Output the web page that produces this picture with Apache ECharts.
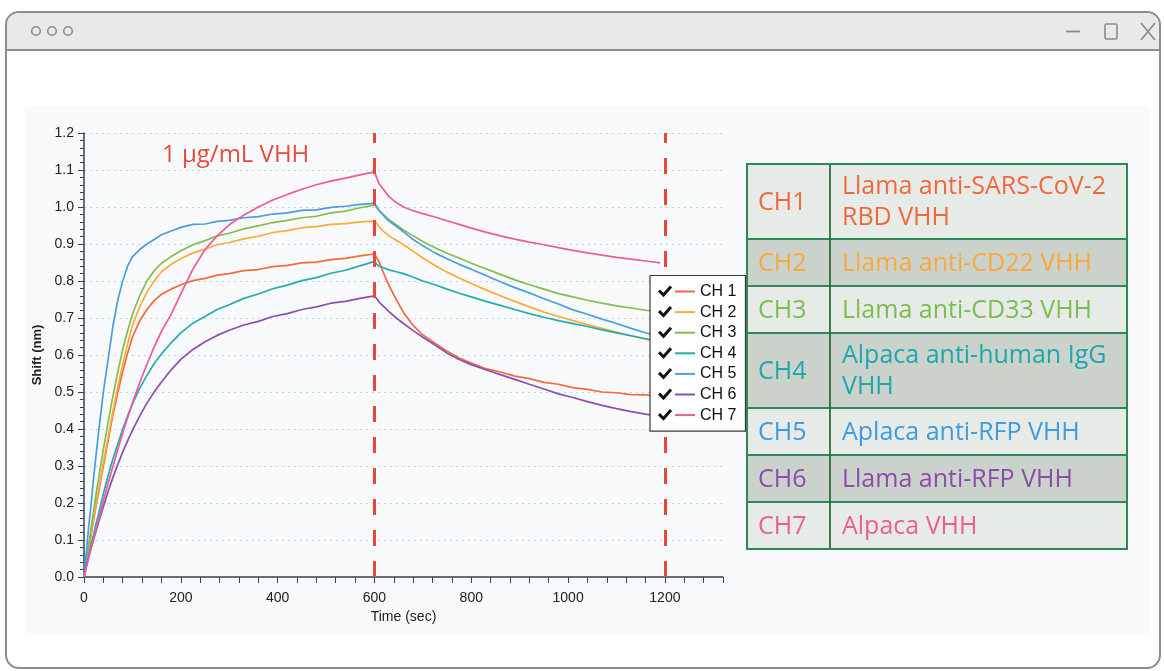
<!DOCTYPE html>
<html>
<head>
<meta charset="utf-8">
<title>BLI binding kinetics – 1 µg/mL VHH</title>
<script src="https://cdn.jsdelivr.net/npm/echarts@6/dist/echarts.min.js"></script>
<style>
  html, body { margin: 0; padding: 0; background: #ffffff; }
  #chart { width: 1164px; height: 671px; }
</style>
</head>
<body>
<div id="chart"></div>
<script>
// Sampling times (s): association 0–600, dissociation 600–1190
const times = [0, 5, 10, 15, 20, 25, 30, 40, 50, 60, 70, 80, 90, 100, 115, 130, 145, 160, 180, 200,
  225, 250, 275, 300, 330, 360, 390, 420, 450, 480, 510, 540, 570, 600,
  605, 610, 620, 630, 645, 660, 680, 700, 725, 750, 775, 800, 830, 860, 890, 920, 950, 980,
  1010, 1040, 1070, 1100, 1130, 1160, 1190];

// Wavelength shift (nm) per channel
const ch1 = [0, 0.038, 0.077, 0.116, 0.155, 0.193, 0.228, 0.3, 0.37, 0.44, 0.5, 0.555, 0.605, 0.648, 0.692, 0.723, 0.747, 0.764, 0.778, 0.79,
  0.801, 0.807, 0.816, 0.82, 0.828, 0.831, 0.839, 0.842, 0.849, 0.851, 0.858, 0.861, 0.868, 0.873,
  0.862, 0.85, 0.818, 0.788, 0.75, 0.715, 0.68, 0.654, 0.632, 0.61, 0.592, 0.578, 0.563, 0.554, 0.543, 0.536, 0.526, 0.521,
  0.512, 0.507, 0.5, 0.498, 0.493, 0.492, 0.488];
const ch2 = [0, 0.04, 0.08, 0.12, 0.16, 0.2, 0.235, 0.31, 0.38, 0.45, 0.515, 0.575, 0.63, 0.68, 0.73, 0.77, 0.8, 0.825, 0.845, 0.86,
  0.876, 0.886, 0.898, 0.904, 0.914, 0.921, 0.931, 0.936, 0.944, 0.947, 0.953, 0.955, 0.96, 0.962,
  0.955, 0.946, 0.933, 0.922, 0.91, 0.898, 0.88, 0.862, 0.842, 0.824, 0.808, 0.793, 0.776, 0.76, 0.745, 0.73, 0.716, 0.704,
  0.693, 0.682, 0.672, 0.662, 0.652, 0.643, 0.635];
const ch3 = [0, 0.045, 0.09, 0.135, 0.18, 0.225, 0.265, 0.345, 0.42, 0.49, 0.555, 0.615, 0.665, 0.71, 0.76, 0.8, 0.828, 0.848, 0.866, 0.882,
  0.898, 0.909, 0.922, 0.929, 0.941, 0.949, 0.958, 0.964, 0.971, 0.975, 0.984, 0.989, 0.998, 1.005,
  0.998, 0.99, 0.978, 0.966, 0.952, 0.938, 0.922, 0.907, 0.89, 0.875, 0.862, 0.848, 0.833, 0.818, 0.803, 0.79, 0.778, 0.766,
  0.757, 0.748, 0.74, 0.733, 0.727, 0.721, 0.715];
const ch4 = [0, 0.03, 0.06, 0.09, 0.115, 0.145, 0.17, 0.225, 0.275, 0.32, 0.36, 0.4, 0.435, 0.468, 0.51, 0.545, 0.577, 0.603, 0.633, 0.66,
  0.686, 0.704, 0.723, 0.736, 0.753, 0.765, 0.779, 0.789, 0.801, 0.809, 0.821, 0.829, 0.841, 0.853,
  0.845, 0.84, 0.835, 0.83, 0.825, 0.82, 0.81, 0.8, 0.79, 0.778, 0.767, 0.757, 0.745, 0.734, 0.723, 0.712, 0.702, 0.693,
  0.685, 0.677, 0.668, 0.66, 0.652, 0.644, 0.636];
const ch5 = [0, 0.07, 0.14, 0.2, 0.27, 0.33, 0.39, 0.5, 0.59, 0.68, 0.75, 0.8, 0.84, 0.865, 0.885, 0.9, 0.912, 0.925, 0.935, 0.945,
  0.953, 0.954, 0.961, 0.964, 0.971, 0.974, 0.981, 0.984, 0.991, 0.992, 0.999, 1.002, 1.007, 1.01,
  1.0, 0.99, 0.975, 0.962, 0.948, 0.933, 0.912, 0.895, 0.876, 0.86, 0.845, 0.832, 0.815, 0.798, 0.782, 0.768, 0.752, 0.738,
  0.722, 0.71, 0.697, 0.685, 0.672, 0.66, 0.648];
const ch6 = [0, 0.03, 0.055, 0.08, 0.102, 0.125, 0.147, 0.19, 0.232, 0.27, 0.305, 0.338, 0.368, 0.396, 0.435, 0.47, 0.5, 0.527, 0.56, 0.588,
  0.615, 0.636, 0.653, 0.667, 0.681, 0.691, 0.704, 0.712, 0.723, 0.73, 0.74, 0.745, 0.753, 0.76,
  0.752, 0.742, 0.73, 0.717, 0.7, 0.685, 0.666, 0.648, 0.627, 0.605, 0.588, 0.574, 0.56, 0.547, 0.534, 0.521, 0.508, 0.495,
  0.485, 0.474, 0.464, 0.455, 0.447, 0.44, 0.434];
const ch7 = [0, 0.027, 0.054, 0.08, 0.105, 0.13, 0.155, 0.205, 0.255, 0.3, 0.345, 0.39, 0.43, 0.47, 0.525, 0.575, 0.622, 0.664, 0.71, 0.765,
  0.832, 0.885, 0.922, 0.952, 0.978, 1.0, 1.019, 1.034, 1.048, 1.06, 1.07, 1.078, 1.087, 1.095,
  1.078, 1.062, 1.045, 1.028, 1.012, 1.0, 0.99, 0.982, 0.973, 0.963, 0.953, 0.943, 0.932, 0.922, 0.913, 0.905, 0.898, 0.89,
  0.883, 0.876, 0.87, 0.864, 0.859, 0.854, 0.849];

const seriesNames = ['CH 1', 'CH 2', 'CH 3', 'CH 4', 'CH 5', 'CH 6', 'CH 7'];
const seriesValues = [ch1, ch2, ch3, ch4, ch5, ch6, ch7];
const seriesColors = ['#f36a3c', '#fbab3a', '#80bf4c', '#22adb0', '#4a9de0', '#8a4fb3', '#ee5a9a'];

// Step boundaries (association end, dissociation end)
const phaseMarks = [600, 1200];
const annotation = '1 μg/mL VHH';

// Channel key table
const tableChannels = ['CH1', 'CH2', 'CH3', 'CH4', 'CH5', 'CH6', 'CH7'];
const tableLabels = ['Llama anti-SARS-CoV-2\nRBD VHH', 'Llama anti-CD22 VHH', 'Llama anti-CD33 VHH',
  'Alpaca anti-human IgG\nVHH', 'Aplaca anti-RFP VHH', 'Llama anti-RFP VHH', 'Alpaca VHH'];
const tableColors = ['#f0693d', '#f9aa3c', '#7cbd50', '#1ea8aa', '#3f9ade', '#8a4ea6', '#ee5b97'];

const AXIS_FONT = "'Liberation Sans', Arial, sans-serif";
const TABLE_FONT = "'Open Sans', sans-serif";
const AXIS_COLOR = '#34444f';

const chart = echarts.init(document.getElementById('chart'), null, { renderer: 'canvas' });

// ---- window chrome + panel background ----
const chrome = [
  { type: 'rect', z: -20, shape: { x: 6, y: 12, width: 1154, height: 656, r: 13 },
    style: { fill: '#ffffff', stroke: '#8c8c8c', lineWidth: 2 } },
  { type: 'rect', z: -19, shape: { x: 7, y: 13, width: 1152, height: 37, r: [12, 12, 0, 0] },
    style: { fill: '#e9e9eb' } },
  { type: 'line', z: -18, shape: { x1: 6, y1: 50, x2: 1160, y2: 50 }, style: { stroke: '#8c8c8c', lineWidth: 2 } },
  { type: 'circle', z: -18, shape: { cx: 36, cy: 31, r: 4.3 }, style: { fill: 'none', stroke: '#8a8a8a', lineWidth: 1.5 } },
  { type: 'circle', z: -18, shape: { cx: 52, cy: 31, r: 4.3 }, style: { fill: 'none', stroke: '#8a8a8a', lineWidth: 1.5 } },
  { type: 'circle', z: -18, shape: { cx: 68, cy: 31, r: 4.3 }, style: { fill: 'none', stroke: '#8a8a8a', lineWidth: 1.5 } },
  { type: 'line', z: -18, shape: { x1: 1066, y1: 31.5, x2: 1080, y2: 31.5 }, style: { stroke: '#8a8a8a', lineWidth: 1.8 } },
  { type: 'rect', z: -18, shape: { x: 1105, y: 24, width: 12, height: 15, r: 1.5 }, style: { fill: 'none', stroke: '#8a8a8a', lineWidth: 1.6 } },
  { type: 'line', z: -18, shape: { x1: 1141, y1: 23, x2: 1155, y2: 40 }, style: { stroke: '#8a8a8a', lineWidth: 1.6 } },
  { type: 'line', z: -18, shape: { x1: 1155, y1: 23, x2: 1141, y2: 40 }, style: { stroke: '#8a8a8a', lineWidth: 1.6 } },
  { type: 'rect', z: -17, shape: { x: 25, y: 107, width: 1125, height: 527 }, style: { fill: '#f8f9fb' } },
  { type: 'text', z: 5, x: 162, y: 155,
    style: { text: annotation, fill: '#e8493c', font: '500 24px ' + TABLE_FONT, verticalAlign: 'middle' } }
];

// ---- check marks beside legend entries ----
const LEG_TOP = 275.5, LEG_PAD_TOP = 8, LEG_ROW = 20.6;
const checks = seriesNames.map((n, i) => {
  const cy = LEG_TOP + LEG_PAD_TOP + 8 + i * LEG_ROW;
  return { type: 'polyline', z: 50,
    shape: { points: [[659, cy - 1], [663.5, cy + 3.5], [671, cy - 5]] },
    style: { stroke: '#111111', lineWidth: 3, fill: null, lineJoin: 'miter', lineCap: 'butt' } };
});

// ---- channel key table ----
const table = [];
const TX = 747, TW = 380, COL = 83, TY = 164;
let y = TY;
tableChannels.forEach((ch, i) => {
  const lines = tableLabels[i].split('\n').length;
  const h = lines > 1 ? 75 : 47;
  const fill = i % 2 === 0 ? '#e6ebe8' : '#cbd2cb';
  table.push({ type: 'rect', z: 40, shape: { x: TX, y: y, width: TW, height: h },
    style: { fill: fill, stroke: '#2e8757', lineWidth: 1.8 } });
  table.push({ type: 'text', z: 42, x: TX + 11, y: y + h / 2 + 1,
    style: { text: ch, fill: tableColors[i], font: '500 25px ' + TABLE_FONT, verticalAlign: 'middle' } });
  table.push({ type: 'text', z: 42, x: TX + COL + 12, y: y + h / 2 + 1,
    style: { text: tableLabels[i], fill: tableColors[i], font: '500 25px ' + TABLE_FONT,
      verticalAlign: 'middle', lineHeight: 31 } });
  y += h;
});
table.push({ type: 'line', z: 41, shape: { x1: TX + COL, y1: TY, x2: TX + COL, y2: y },
  style: { stroke: '#2f6b3f', lineWidth: 1.8 } });
table.push({ type: 'rect', z: 43, shape: { x: TX, y: TY, width: TW, height: y - TY },
  style: { fill: 'none', stroke: '#2e8757', lineWidth: 2 } });

const lineSeries = seriesNames.map((name, i) => ({
  name: name,
  type: 'line',
  data: times.map((t, k) => [t, seriesValues[i][k]]),
  showSymbol: false,
  symbol: 'none',
  color: seriesColors[i],
  lineStyle: { width: 1.7, color: seriesColors[i] },
  emphasis: { disabled: true },
  z: 3
}));

// dashed step boundaries, carried by the first channel
lineSeries[0].markLine = {
  silent: true,
  symbol: 'none',
  animation: false,
  label: { show: false },
  lineStyle: { color: '#e8483b', type: [16, 15], width: 3 },
  emphasis: { disabled: true },
  data: phaseMarks.map(t => ({ xAxis: t }))
};

const option = {
  animation: false,
  backgroundColor: '#ffffff',
  textStyle: { fontFamily: AXIS_FONT },
  grid: { left: 84, right: 441, top: 133, bottom: 94, containLabel: false, outerBoundsMode: 'none' },
  xAxis: {
    type: 'value', min: 0, max: 1320, interval: 40,
    name: 'Time (sec)', nameLocation: 'middle', nameGap: 29,
    nameTextStyle: { fontSize: 14, color: '#222', fontFamily: AXIS_FONT },
    axisLine: { show: true, onZero: false, lineStyle: { color: AXIS_COLOR, width: 1.5 } },
    axisTick: { show: true, length: 6, lineStyle: { color: AXIS_COLOR, width: 1 } },
    axisLabel: { fontSize: 14, color: '#222', margin: 14, fontFamily: AXIS_FONT,
      formatter: v => (Math.round(v) % 200 === 0 ? String(Math.round(v)) : '') },
    splitLine: { show: false }
  },
  yAxis: {
    type: 'value', min: 0, max: 1.2, interval: 0.1,
    name: 'Shift (nm)', nameLocation: 'middle', nameGap: 37,
    nameTextStyle: { fontSize: 13, fontWeight: 'bold', color: '#222', fontFamily: AXIS_FONT },
    axisLine: { show: true, lineStyle: { color: AXIS_COLOR, width: 1.5 } },
    axisTick: { show: true, length: 6, lineStyle: { color: AXIS_COLOR, width: 1 } },
    minorTick: { show: true, splitNumber: 5, length: 4, lineStyle: { color: AXIS_COLOR, width: 1 } },
    axisLabel: { fontSize: 14, color: '#222', margin: 10, fontFamily: AXIS_FONT,
      formatter: v => v.toFixed(1) },
    splitLine: { show: true, lineStyle: { color: '#bfd7ec', type: [2, 4], width: 1 } }
  },
  legend: {
    data: seriesNames,
    orient: 'vertical',
    left: 650, top: LEG_TOP,
    padding: [LEG_PAD_TOP, 9, 8, 25],
    itemGap: LEG_ROW - 16,
    itemWidth: 20, itemHeight: 2,
    icon: 'rect',
    backgroundColor: '#ffffff',
    borderColor: '#3a3a3a', borderWidth: 1.2, borderRadius: 0,
    textStyle: { fontSize: 16, lineHeight: 16, color: '#111', fontFamily: AXIS_FONT },
    selectedMode: false,
    z: 20
  },
  graphic: { elements: chrome.concat(checks, table) },
  series: lineSeries
};

chart.setOption(option);
</script>
</body>
</html>
